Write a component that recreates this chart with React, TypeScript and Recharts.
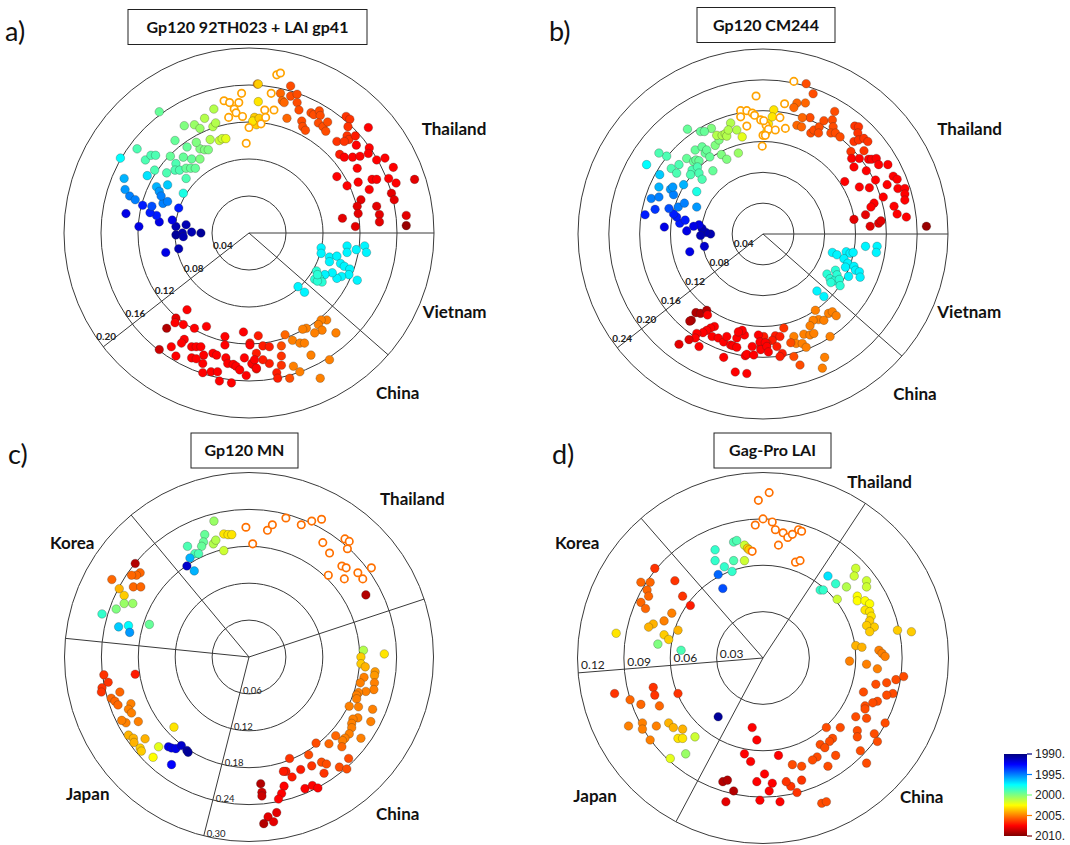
import {
  RadarChart, PolarGrid, ScatterChart, Scatter, XAxis, YAxis, BarChart, Bar,
} from 'recharts'

// each row: [x, y, year] — position in tree space (subst./site), sampling year
type Row = [number, number, number]

// ---------- a) Gp120 92TH023 + LAI gp41 ----------
const A_RINGS = [0.04, 0.08, 0.12, 0.16, 0.2]
const A_THAILAND: Row[] = [
  [-0.052, 0.000, 1990.5], [-0.062, 0.001, 1991], [-0.068, 0.009, 1991], [-0.072, 0.000, 1991], [-0.079, 0.007, 1991],
  [-0.079, -0.002, 1990.5], [-0.071, -0.004, 1991], [-0.076, -0.017, 1991],
  [-0.090, -0.021, 1992], [-0.083, 0.014, 1992], [-0.097, 0.012, 1992], [-0.100, 0.019, 1993], [-0.107, 0.022, 1993],
  [-0.115, 0.030, 1993], [-0.119, 0.007, 1992], [-0.133, 0.021, 1992], [-0.105, 0.029, 1994], [-0.076, 0.027, 1993],
  [-0.093, 0.032, 1995], [-0.088, 0.034, 1995], [-0.129, 0.040, 1995], [-0.123, 0.036, 1995], [-0.134, 0.047, 1995.5],
  [-0.100, 0.050, 1996], [-0.097, 0.045, 1995.5], [-0.095, 0.040, 1995], [-0.088, 0.052, 1996.5], [-0.110, 0.062, 1997],
  [-0.135, 0.059, 1996], [-0.139, 0.081, 1997.5], [-0.071, 0.043, 1998],
  [-0.097, 0.131, 1999.5], [-0.121, 0.091, 1999], [-0.112, 0.079, 1999], [-0.106, 0.084, 1999], [-0.101, 0.084, 1999],
  [-0.102, 0.068, 1999], [-0.085, 0.083, 1999.5], [-0.080, 0.100, 1999.5], [-0.079, 0.075, 1999], [-0.080, 0.068, 1999],
  [-0.075, 0.068, 1999], [-0.068, 0.059, 1999], [-0.089, 0.065, 1999], [-0.071, 0.082, 1999.5], [-0.067, 0.093, 1999.5],
  [-0.062, 0.080, 1999.5], [-0.068, 0.070, 1999.5], [-0.063, 0.070, 1999.5], [-0.058, 0.070, 1999.5], [-0.053, 0.080, 2000],
  [-0.053, 0.091, 2000], [-0.057, 0.098, 2000], [-0.048, 0.090, 2000], [-0.044, 0.090, 2000], [-0.070, 0.116, 2000],
  [-0.059, 0.117, 2000.5], [-0.053, 0.113, 2000.5], [-0.048, 0.124, 2001], [-0.039, 0.115, 2001], [-0.036, 0.119, 2001],
  [-0.038, 0.134, 2001], [-0.042, 0.101, 2001], [-0.032, 0.100, 2001.5], [-0.029, 0.102, 2001.5], [-0.025, 0.102, 2002],
  [0.006, 0.125, 2003.5], [0.008, 0.117, 2003.5], [0.009, 0.161, 2005],
  [0.010, 0.161, 2003.5], [0.010, 0.142, 2003], [0.004, 0.121, 2003], [0.011, 0.124, 2003.5],
  [0.045, 0.159, 2006], [0.034, 0.151, 2005.5], [0.045, 0.148, 2006], [0.052, 0.150, 2006], [0.036, 0.143, 2005.5],
  [0.038, 0.141, 2005.5], [0.052, 0.141, 2006], [0.054, 0.133, 2006], [0.041, 0.124, 2005.5], [0.057, 0.121, 2006],
  [0.058, 0.115, 2006], [0.061, 0.111, 2006], [0.067, 0.130, 2006], [0.070, 0.128, 2006], [0.076, 0.132, 2006],
  [0.077, 0.127, 2006], [0.075, 0.119, 2006], [0.080, 0.115, 2006], [0.083, 0.110, 2006], [0.085, 0.120, 2006],
  [0.105, 0.126, 2006.5], [0.109, 0.123, 2006.5], [0.107, 0.115, 2006.5], [0.106, 0.105, 2006.5], [0.108, 0.101, 2006.5],
  [0.115, 0.105, 2007], [0.095, 0.099, 2006.5], [0.103, 0.099, 2006.5],
  [0.129, 0.114, 2007.5], [0.116, 0.095, 2007.5], [0.130, 0.092, 2007.5], [0.098, 0.085, 2007], [0.103, 0.082, 2007.5],
  [0.112, 0.082, 2007.5], [0.120, 0.083, 2007.5], [0.129, 0.086, 2007.5], [0.138, 0.079, 2007.5], [0.147, 0.081, 2007.5],
  [0.117, 0.070, 2007.5], [0.156, 0.071, 2007.5], [0.095, 0.061, 2007.5], [0.106, 0.051, 2007.5], [0.118, 0.055, 2007.5],
  [0.133, 0.058, 2007.5], [0.138, 0.058, 2007.5], [0.151, 0.059, 2007.5], [0.159, 0.054, 2007.5], [0.179, 0.058, 2008],
  [0.130, 0.047, 2007.5], [0.154, 0.043, 2008], [0.157, 0.036, 2008], [0.121, 0.036, 2008], [0.117, 0.029, 2008],
  [0.118, 0.021, 2008], [0.138, 0.029, 2008], [0.141, 0.020, 2008], [0.141, 0.012, 2008], [0.101, 0.016, 2008],
  [0.115, 0.007, 2008], [0.170, 0.019, 2008], [0.170, 0.008, 2009.5],
]
const A_THAILAND_OPEN: Row[] = [
  [-0.027, 0.143, 2004.3], [-0.021, 0.141, 2004.3], [-0.011, 0.141, 2004.3], [-0.008, 0.151, 2004.3], [-0.016, 0.134, 2004.3],
  [-0.014, 0.130, 2004.3], [-0.022, 0.125, 2004.3], [-0.007, 0.126, 2004.3], [0.000, 0.114, 2004.3], [-0.003, 0.097, 2004.3],
  [0.030, 0.171, 2004.3], [0.034, 0.173, 2004.3], [0.024, 0.151, 2004.3], [0.017, 0.133, 2004.3], [0.027, 0.133, 2004.3],
  [0.013, 0.118, 2004.3], [0.018, 0.125, 2004.3],
]
const A_VIETNAM: Row[] = [
  [0.078, -0.016, 1997.3], [0.078, -0.022, 1997.3], [0.087, -0.026, 1997.3], [0.087, -0.031, 1997.3], [0.095, -0.025, 1997.3],
  [0.106, -0.014, 1997.3], [0.106, -0.021, 1997.3], [0.116, -0.018, 1997.3], [0.125, -0.014, 1997.3], [0.127, -0.021, 1997.3],
  [0.099, -0.033, 1997.3], [0.103, -0.036, 1997.3], [0.109, -0.039, 1997.3], [0.108, -0.045, 1997.3], [0.100, -0.047, 1997.3],
  [0.095, -0.049, 1997.3], [0.090, -0.043, 1997.3], [0.082, -0.045, 1997.3], [0.117, -0.051, 1997.3], [0.053, -0.058, 1997.3],
  [0.060, -0.064, 1997.3],
  [0.073, -0.041, 1998.3], [0.071, -0.050, 1998.3], [0.076, -0.049, 1998.3], [0.079, -0.053, 1998.3], [0.074, -0.052, 1998.3],
  [0.074, -0.045, 1998.3],
]
const A_CHINA: Row[] = [
  [0.084, -0.094, 2005], [0.078, -0.094, 2005], [0.075, -0.099, 2005], [0.079, -0.105, 2005], [0.071, -0.108, 2005],
  [0.062, -0.103, 2005], [0.058, -0.104, 2005], [0.047, -0.116, 2005], [0.055, -0.119, 2005], [0.060, -0.119, 2005],
  [0.067, -0.132, 2005], [0.094, -0.108, 2005], [0.087, -0.137, 2005], [0.077, -0.157, 2005], [0.055, -0.150, 2005],
  [0.048, -0.144, 2005], [0.039, -0.110, 2005.5], [0.035, -0.122, 2006],
  [0.010, -0.111, 2007], [0.001, -0.119, 2007], [0.015, -0.122, 2007], [0.022, -0.123, 2007], [0.008, -0.130, 2007],
  [0.022, -0.141, 2007], [0.035, -0.133, 2006.5], [0.015, -0.137, 2007], [0.004, -0.142, 2007], [0.008, -0.147, 2007],
  [0.035, -0.143, 2006.5], [0.030, -0.151, 2007], [0.044, -0.157, 2006], [0.031, -0.157, 2007],
  [-0.089, -0.103, 2009], [-0.079, -0.092, 2008], [-0.097, -0.126, 2008.5], [-0.067, -0.083, 2007.5], [-0.080, -0.097, 2007.5],
  [-0.071, -0.099, 2007.5], [-0.070, -0.115, 2007.5], [-0.073, -0.119, 2007.5], [-0.059, -0.103, 2007.5], [-0.046, -0.101, 2007.5],
  [-0.026, -0.112, 2007.5], [-0.006, -0.107, 2007.5], [0.001, -0.121, 2007.5], [-0.026, -0.121, 2007.5], [-0.084, -0.123, 2007.5],
  [-0.079, -0.133, 2007.5], [-0.062, -0.123, 2007.5], [-0.057, -0.123, 2007.5], [-0.052, -0.123, 2007.5], [-0.049, -0.132, 2007.5],
  [-0.039, -0.130, 2007.5], [-0.035, -0.132, 2007.5], [-0.050, -0.141, 2007.5], [-0.062, -0.135, 2007.5], [-0.057, -0.136, 2007.5],
  [-0.025, -0.135, 2007.5], [-0.023, -0.141, 2007.5], [-0.017, -0.142, 2007.5], [-0.014, -0.144, 2007.5], [-0.010, -0.148, 2007.5],
  [-0.005, -0.135, 2007.5], [0.003, -0.141, 2007.5], [0.006, -0.137, 2007.5], [0.008, -0.146, 2007.5], [-0.050, -0.151, 2007.5],
  [-0.041, -0.150, 2007.5], [-0.034, -0.150, 2007.5], [-0.032, -0.160, 2007.5], [-0.019, -0.162, 2007.5], [-0.003, -0.154, 2007.5],
]

// ---------- b) Gp120 CM244 ----------
const B_RINGS = [0.04, 0.08, 0.12, 0.16, 0.2, 0.24]
const B_THAILAND: Row[] = [
  [-0.068, 0.000, 1991], [-0.074, 0.002, 1991], [-0.079, 0.007, 1991], [-0.081, -0.002, 1991], [-0.083, 0.012, 1992],
  [-0.076, -0.016, 1991.5], [-0.095, -0.023, 1992], [-0.090, 0.010, 1992], [-0.099, 0.004, 1992], [-0.108, 0.014, 1993],
  [-0.112, 0.022, 1993], [-0.116, 0.026, 1993], [-0.101, 0.018, 1993], [-0.128, 0.009, 1992], [-0.122, 0.033, 1994],
  [-0.140, 0.032, 1993.5], [-0.153, 0.025, 1993],
  [-0.145, 0.046, 1995], [-0.135, 0.048, 1995], [-0.110, 0.035, 1995], [-0.102, 0.040, 1995], [-0.086, 0.035, 1995.5],
  [-0.120, 0.058, 1995.5], [-0.116, 0.051, 1995], [-0.117, 0.061, 1995.5], [-0.135, 0.061, 1996], [-0.103, 0.064, 1996],
  [-0.134, 0.077, 1996.5], [-0.151, 0.090, 1997.5], [-0.086, 0.055, 1998],
  [-0.098, 0.136, 1999.5], [-0.081, 0.133, 1999.5], [-0.067, 0.137, 2000], [-0.076, 0.133, 1999.5], [-0.125, 0.101, 1999],
  [-0.135, 0.105, 1999], [-0.119, 0.085, 1999], [-0.109, 0.090, 1999], [-0.112, 0.079, 1999], [-0.099, 0.098, 1999.5],
  [-0.090, 0.094, 1999.5], [-0.087, 0.096, 1999.5], [-0.083, 0.095, 1999.5], [-0.092, 0.083, 1999], [-0.085, 0.087, 1999],
  [-0.094, 0.077, 1999], [-0.083, 0.079, 1999], [-0.079, 0.071, 1999], [-0.088, 0.109, 1999.5], [-0.079, 0.113, 1999.5],
  [-0.075, 0.105, 1999.5], [-0.073, 0.109, 1999.5], [-0.065, 0.082, 1999.5], [-0.069, 0.100, 1999.5], [-0.062, 0.115, 2000],
  [-0.057, 0.122, 2000], [-0.054, 0.103, 2000], [-0.047, 0.097, 2000], [-0.032, 0.105, 2000.5], [-0.060, 0.128, 2001],
  [-0.053, 0.128, 2001], [-0.049, 0.130, 2001], [-0.047, 0.127, 2001], [-0.042, 0.144, 2001], [-0.034, 0.135, 2001],
  [-0.045, 0.135, 2001], [-0.027, 0.126, 2002],
  [0.014, 0.161, 2003], [0.007, 0.143, 2003], [0.005, 0.133, 2003], [0.012, 0.152, 2003],
  [0.056, 0.195, 2006], [0.065, 0.182, 2006], [0.055, 0.170, 2005.5], [0.044, 0.170, 2005.5], [0.040, 0.164, 2005.5],
  [0.061, 0.151, 2006], [0.051, 0.151, 2005.5], [0.044, 0.141, 2005.5], [0.050, 0.139, 2005.5], [0.062, 0.131, 2006],
  [0.066, 0.135, 2006], [0.073, 0.139, 2006], [0.072, 0.131, 2006], [0.079, 0.147, 2006], [0.090, 0.148, 2006],
  [0.093, 0.159, 2006], [0.091, 0.139, 2006], [0.088, 0.131, 2006], [0.094, 0.131, 2006], [0.100, 0.126, 2006],
  [0.119, 0.140, 2006.5], [0.124, 0.139, 2006.5], [0.123, 0.131, 2006.5], [0.118, 0.120, 2006.5], [0.124, 0.122, 2006.5],
  [0.131, 0.124, 2006.5], [0.136, 0.120, 2006.5], [0.114, 0.107, 2006.5], [0.131, 0.108, 2006.5],
  [0.115, 0.098, 2007.5], [0.125, 0.098, 2007.5], [0.118, 0.087, 2007.5], [0.137, 0.097, 2007.5], [0.141, 0.097, 2007.5],
  [0.147, 0.098, 2007.5], [0.134, 0.082, 2007.5], [0.146, 0.070, 2007.5], [0.150, 0.090, 2007.5], [0.162, 0.090, 2007.5],
  [0.106, 0.068, 2007.5], [0.125, 0.061, 2007.5], [0.138, 0.060, 2007.5], [0.161, 0.064, 2007.5], [0.169, 0.075, 2007.5],
  [0.174, 0.071, 2007.5], [0.175, 0.059, 2007.5], [0.184, 0.059, 2007.5], [0.184, 0.052, 2007.5], [0.184, 0.044, 2007.5],
  [0.156, 0.048, 2007.5], [0.144, 0.040, 2007.5], [0.140, 0.035, 2007.5], [0.170, 0.036, 2007.5], [0.174, 0.026, 2007.5],
  [0.186, 0.022, 2007.5], [0.133, 0.025, 2008], [0.118, 0.019, 2008], [0.139, 0.010, 2008], [0.150, 0.014, 2008],
  [0.153, 0.017, 2008], [0.212, 0.010, 2009.5],
]
const B_THAILAND_OPEN: Row[] = [
  [-0.009, 0.179, 2004.3], [-0.029, 0.160, 2004.3], [-0.021, 0.160, 2004.3], [-0.014, 0.157, 2004.3], [-0.011, 0.154, 2004.3],
  [-0.029, 0.152, 2004.3], [-0.021, 0.140, 2004.3], [-0.003, 0.148, 2004.3], [0.004, 0.141, 2004.3], [0.000, 0.128, 2004.3],
  [-0.001, 0.114, 2004.3], [0.007, 0.136, 2004.3], [0.040, 0.198, 2004.3], [0.028, 0.169, 2004.3], [0.022, 0.151, 2004.3],
  [0.016, 0.135, 2004.3], [0.029, 0.137, 2004.3], [0.001, 0.147, 2004.3], [0.003, 0.128, 2004.3],
]
const B_VIETNAM: Row[] = [
  [0.090, -0.024, 1997.3], [0.096, -0.027, 1997.3], [0.108, -0.023, 1997.3], [0.113, -0.025, 1997.3], [0.117, -0.024, 1997.3],
  [0.133, -0.016, 1997.3], [0.148, -0.016, 1997.3], [0.147, -0.024, 1997.3], [0.105, -0.032, 1997.3], [0.110, -0.038, 1997.3],
  [0.107, -0.043, 1997.3], [0.118, -0.042, 1997.3], [0.120, -0.047, 1997.3], [0.125, -0.049, 1997.3], [0.126, -0.056, 1997.3],
  [0.111, -0.055, 1997.3], [0.070, -0.074, 1997.3], [0.079, -0.081, 1997.3],
  [0.083, -0.052, 1998.3], [0.087, -0.058, 1998.3], [0.094, -0.047, 1998.3], [0.096, -0.053, 1998.3], [0.092, -0.061, 1998.3],
  [0.099, -0.059, 1998.3], [0.100, -0.067, 1998.3], [0.088, -0.063, 1998.3],
]
const B_CHINA: Row[] = [
  [0.068, -0.099, 2005], [0.085, -0.103, 2005], [0.090, -0.101, 2005], [0.095, -0.106, 2005], [0.072, -0.111, 2005],
  [0.065, -0.112, 2005], [0.079, -0.112, 2005], [0.061, -0.119, 2005], [0.053, -0.130, 2005], [0.061, -0.131, 2005],
  [0.066, -0.129, 2005], [0.087, -0.133, 2005], [0.040, -0.133, 2005], [0.043, -0.142, 2005], [0.051, -0.142, 2005],
  [0.056, -0.147, 2005], [0.077, -0.174, 2005], [0.080, -0.160, 2005],
  [0.036, -0.141, 2006], [0.040, -0.159, 2006], [0.048, -0.170, 2006],
  [0.027, -0.122, 2006.5], [0.016, -0.132, 2007], [0.012, -0.138, 2007], [0.001, -0.133, 2007], [0.005, -0.142, 2007],
  [0.022, -0.133, 2007], [0.018, -0.146, 2007], [0.025, -0.155, 2007], [0.022, -0.159, 2007], [-0.003, -0.146, 2007],
  [-0.087, -0.102, 2009], [-0.081, -0.103, 2009], [-0.093, -0.112, 2009], [-0.095, -0.113, 2009], [-0.073, -0.099, 2009],
  [-0.072, -0.105, 2007.5], [-0.063, -0.120, 2007.5], [-0.068, -0.122, 2007.5], [-0.073, -0.125, 2007.5], [-0.078, -0.128, 2007.5],
  [-0.086, -0.129, 2007.5], [-0.088, -0.135, 2007.5], [-0.096, -0.137, 2008], [-0.109, -0.143, 2008], [-0.083, -0.146, 2007.5],
  [-0.066, -0.133, 2007.5], [-0.058, -0.135, 2007.5], [-0.051, -0.140, 2007.5], [-0.047, -0.133, 2007.5], [-0.042, -0.144, 2007.5],
  [-0.034, -0.135, 2007.5], [-0.039, -0.145, 2007.5], [-0.034, -0.147, 2007.5], [-0.051, -0.160, 2007.5], [-0.023, -0.158, 2007.5],
  [-0.021, -0.156, 2007.5], [-0.012, -0.157, 2007.5], [-0.024, -0.131, 2007.5], [-0.006, -0.131, 2007.5], [-0.004, -0.140, 2007.5],
  [0.003, -0.141, 2007.5], [-0.014, -0.146, 2007.5], [-0.003, -0.150, 2007.5], [-0.036, -0.179, 2007.5], [-0.021, -0.181, 2007.5],
  [-0.027, -0.125, 2007.5], [-0.032, -0.127, 2007.5], [0.005, -0.146, 2007.5], [0.007, -0.153, 2007.5],
]

// ---------- c) Gp120 MN ----------
const C_RINGS = [0.06, 0.12, 0.18, 0.24, 0.3]
const C_KOREA: Row[] = [
  [-0.185, 0.152, 2009], [-0.177, 0.137, 2005.5], [-0.183, 0.133, 2005.5], [-0.191, 0.133, 2005.5], [-0.188, 0.114, 2005.5],
  [-0.176, 0.114, 2005.5], [-0.223, 0.126, 2005.5], [-0.211, 0.111, 2004], [-0.203, 0.100, 2003.5], [-0.203, 0.087, 2000.5],
  [-0.189, 0.087, 2000.5], [-0.216, 0.078, 2000], [-0.239, 0.070, 1998.5], [-0.162, 0.053, 1999.5], [-0.196, 0.051, 1997.5],
  [-0.212, 0.049, 1996.5], [-0.194, 0.040, 1995.5],
]
const C_THAILAND: Row[] = [
  [-0.057, 0.221, 2000.5], [-0.072, 0.199, 1999.5], [-0.074, 0.187, 1999.5], [-0.077, 0.180, 1999.5], [-0.100, 0.180, 1999],
  [-0.088, 0.168, 1999], [-0.082, 0.168, 1999], [-0.058, 0.184, 2001], [-0.054, 0.190, 2001], [-0.041, 0.173, 2001.5],
  [-0.041, 0.200, 2003], [-0.034, 0.199, 2003], [-0.028, 0.199, 2003], [-0.096, 0.161, 1996], [-0.101, 0.148, 1991.5],
  [-0.089, 0.140, 1996], [0.190, 0.101, 2009],
]
const C_THAILAND_OPEN: Row[] = [
  [-0.005, 0.211, 2005.3], [0.006, 0.184, 2005.3], [0.030, 0.206, 2005.3], [0.038, 0.215, 2005.3], [0.060, 0.226, 2005.3],
  [0.085, 0.215, 2005.3], [0.102, 0.221, 2005.3], [0.118, 0.224, 2005.3], [0.120, 0.186, 2005.3], [0.131, 0.169, 2005.3],
  [0.156, 0.192, 2005.3], [0.163, 0.188, 2005.3], [0.160, 0.176, 2005.3], [0.151, 0.148, 2005.3], [0.158, 0.145, 2005.3],
  [0.129, 0.133, 2005.3], [0.155, 0.127, 2005.3], [0.177, 0.137, 2005.3], [0.185, 0.127, 2005.3], [0.199, 0.145, 2005.3],
]
const C_CHINA: Row[] = [
  [0.186, 0.011, 2001], [0.220, 0.005, 2003], [0.182, 0.000, 2003.5], [0.182, -0.011, 2003.5], [0.189, -0.016, 2004],
  [0.205, -0.024, 2004.5], [0.204, -0.030, 2004.5], [0.187, -0.033, 2005], [0.181, -0.042, 2005], [0.204, -0.042, 2005],
  [0.203, -0.053, 2005], [0.190, -0.056, 2005], [0.178, -0.058, 2005], [0.175, -0.062, 2005], [0.175, -0.068, 2005],
  [0.163, -0.080, 2005], [0.178, -0.081, 2005], [0.201, -0.085, 2005], [0.177, -0.099, 2005], [0.169, -0.101, 2005],
  [0.167, -0.108, 2005], [0.167, -0.115, 2005], [0.198, -0.105, 2005], [0.163, -0.125, 2005], [0.156, -0.132, 2005],
  [0.152, -0.136, 2005], [0.182, -0.132, 2005], [0.141, -0.128, 2005.5], [0.130, -0.141, 2005.5], [0.151, -0.146, 2005.5],
  [0.109, -0.140, 2006], [0.097, -0.159, 2006], [0.066, -0.165, 2006.5], [0.118, -0.171, 2006], [0.126, -0.174, 2006],
  [0.147, -0.179, 2006], [0.162, -0.165, 2006], [0.159, -0.182, 2006], [0.122, -0.189, 2006.5], [0.084, -0.183, 2007],
  [0.102, -0.177, 2006.5], [0.060, -0.186, 2007], [0.056, -0.186, 2007], [0.070, -0.195, 2007], [0.057, -0.210, 2007.5],
  [0.053, -0.222, 2007.5], [0.048, -0.231, 2007.5], [0.091, -0.214, 2007.5], [0.103, -0.209, 2007.5], [0.112, -0.213, 2007.5],
  [0.031, -0.260, 2008], [0.045, -0.253, 2008], [0.040, -0.268, 2008], [0.024, -0.271, 2009], [0.019, -0.206, 2009],
  [0.021, -0.220, 2008.5], [0.021, -0.226, 2008.5],
]
const C_JAPAN: Row[] = [
  [-0.185, -0.028, 2007], [-0.236, -0.029, 2006.5], [-0.229, -0.041, 2006.5], [-0.239, -0.050, 2006.5], [-0.240, -0.057, 2006.5],
  [-0.210, -0.057, 2005.5], [-0.224, -0.067, 2005.5], [-0.218, -0.072, 2005.5], [-0.213, -0.078, 2005.5], [-0.192, -0.076, 2005],
  [-0.196, -0.085, 2005], [-0.191, -0.091, 2005], [-0.180, -0.105, 2005], [-0.200, -0.107, 2005], [-0.207, -0.103, 2005],
  [-0.196, -0.127, 2004], [-0.188, -0.132, 2004], [-0.187, -0.139, 2004], [-0.169, -0.133, 2004], [-0.177, -0.148, 2003.5],
  [-0.175, -0.153, 2003.5], [-0.147, -0.146, 2002], [-0.156, -0.163, 2002.5], [-0.122, -0.114, 2003], [-0.131, -0.146, 1992],
  [-0.126, -0.148, 1992], [-0.119, -0.149, 1992], [-0.110, -0.144, 1991.5], [-0.101, -0.152, 1991], [-0.099, -0.155, 1990.5],
  [-0.126, -0.175, 1992.5],
]

// ---------- d) Gag-Pro LAI ----------
const D_RINGS = [0.03, 0.06, 0.09, 0.12]
const D_KOREA: Row[] = [
  [-0.070, 0.058, 2006.5], [-0.073, 0.049, 2005.5], [-0.079, 0.049, 2005.5], [-0.075, 0.044, 2005.5], [-0.074, 0.040, 2005.5],
  [-0.079, 0.036, 2005.5], [-0.076, 0.032, 2005.5], [-0.057, 0.050, 2006.5], [-0.052, 0.040, 2006.5], [-0.047, 0.034, 2007],
  [-0.059, 0.029, 2005], [-0.064, 0.024, 2005], [-0.071, 0.022, 2004], [-0.074, 0.020, 2004], [-0.055, 0.018, 2004],
  [-0.064, 0.015, 2003.5], [-0.061, 0.012, 2003.5], [-0.095, 0.016, 2003], [-0.068, 0.009, 2000], [-0.053, 0.005, 1999],
]
const D_THAILAND: Row[] = [
  [-0.031, 0.070, 1998.5], [-0.019, 0.075, 1999], [-0.017, 0.076, 1999], [-0.031, 0.063, 1998.5], [-0.019, 0.063, 1999],
  [-0.025, 0.059, 1998.5], [-0.020, 0.056, 1998.5], [-0.012, 0.073, 2001.5], [-0.012, 0.063, 2001.5], [-0.010, 0.071, 2003.5],
  [-0.009, 0.070, 2003.5], [-0.029, 0.054, 1994.5], [-0.026, 0.045, 1994],
]
const D_THAILAND_OPEN: Row[] = [
  [-0.007, 0.069, 2005.3], [0.000, 0.090, 2005.3], [-0.005, 0.086, 2005.3], [-0.003, 0.102, 2005.3], [0.004, 0.107, 2005.3],
  [0.006, 0.088, 2005.3], [0.008, 0.083, 2005.3], [0.013, 0.081, 2005.3], [0.016, 0.078, 2005.3], [0.019, 0.080, 2005.3],
  [0.023, 0.083, 2005.3], [0.025, 0.082, 2005.3], [0.010, 0.073, 2005.3], [0.021, 0.062, 2005.3], [0.024, 0.063, 2005.3],
]
const D_CHINA: Row[] = [
  [0.042, 0.053, 1997], [0.047, 0.048, 1998.5], [0.037, 0.044, 1998.5], [0.039, 0.044, 1998.5], [0.060, 0.058, 2001.5],
  [0.059, 0.053, 2001.5], [0.054, 0.046, 2001], [0.067, 0.050, 2001.5], [0.067, 0.046, 2001.5], [0.048, 0.038, 2001.5],
  [0.061, 0.040, 2002.5], [0.061, 0.037, 2002.5], [0.066, 0.037, 2002.5], [0.069, 0.035, 2002.5], [0.066, 0.031, 2003],
  [0.069, 0.030, 2003], [0.070, 0.027, 2003], [0.069, 0.024, 2003.5], [0.072, 0.020, 2003.5], [0.067, 0.021, 2003.5],
  [0.069, 0.017, 2003.5], [0.087, 0.018, 2003.5], [0.096, 0.017, 2003.5], [0.060, 0.008, 2004], [0.064, 0.007, 2004],
  [0.056, -0.002, 2005], [0.075, 0.005, 2005], [0.077, 0.003, 2005], [0.079, 0.001, 2005], [0.067, -0.004, 2005],
  [0.074, -0.007, 2005],
  [0.086, -0.014, 2006], [0.091, -0.012, 2006], [0.080, -0.016, 2006], [0.073, -0.017, 2006], [0.084, -0.023, 2006],
  [0.080, -0.024, 2006], [0.065, -0.022, 2006], [0.074, -0.028, 2006], [0.071, -0.029, 2006], [0.066, -0.031, 2006],
  [0.066, -0.033, 2006], [0.067, -0.039, 2006], [0.060, -0.038, 2006], [0.079, -0.042, 2006], [0.061, -0.047, 2006],
  [0.061, -0.051, 2006], [0.072, -0.049, 2006], [0.074, -0.054, 2006], [0.050, -0.045, 2006], [0.041, -0.045, 2006],
  [0.045, -0.052, 2006], [0.043, -0.054, 2006], [0.037, -0.056, 2006], [0.040, -0.058, 2006], [0.063, -0.060, 2006],
  [0.067, -0.068, 2006], [0.047, -0.063, 2006], [0.042, -0.070, 2006], [0.035, -0.064, 2006], [0.032, -0.066, 2006],
  [0.019, -0.069, 2006], [0.025, -0.070, 2006], [0.025, -0.079, 2006.5], [0.018, -0.083, 2006.5], [0.022, -0.087, 2006.5],
  [0.015, -0.080, 2006.5], [0.038, -0.094, 2006], [0.041, -0.093, 2006],
  [0.010, -0.063, 2007.5], [0.006, -0.081, 2007.5], [0.011, -0.093, 2007.5], [-0.007, -0.045, 2007.5], [-0.004, -0.053, 2007.5],
  [-0.012, -0.062, 2007.5], [-0.008, -0.067, 2007.5], [0.001, -0.075, 2007.5], [-0.004, -0.080, 2007.5], [-0.002, -0.092, 2007.5],
  [0.004, -0.086, 2007.5], [-0.026, -0.080, 2009], [-0.023, -0.079, 2009], [-0.019, -0.086, 2009], [-0.024, -0.093, 2008],
]
const D_JAPAN: Row[] = [
  [-0.029, -0.038, 1990.5], [-0.096, -0.023, 2006.5], [-0.071, -0.019, 2006.5], [-0.070, -0.024, 2006.5], [-0.055, -0.023, 2006.5],
  [-0.086, -0.027, 2005.5], [-0.079, -0.030, 2005.5], [-0.067, -0.031, 2005.5], [-0.087, -0.044, 2005], [-0.078, -0.042, 2005],
  [-0.078, -0.046, 2005], [-0.069, -0.044, 2005], [-0.073, -0.053, 2005], [-0.061, -0.042, 2004], [-0.058, -0.045, 2004],
  [-0.052, -0.046, 2004], [-0.055, -0.052, 2003], [-0.052, -0.052, 2003], [-0.044, -0.051, 2001.5], [-0.050, -0.062, 2000.5],
  [-0.060, -0.065, 2002],
]

const YEAR_TICKS = [1990, 1995, 2000, 2005, 2010]
const COLORBAR = [{ name: 'year', span: [1990, 2010] }]

// jet colormap, 1990 -> 2010
const clamp = (v: number) => Math.max(0, Math.min(1, v))
function jet(year: number) {
  const t = clamp((year - 1990) / 20)
  const r = clamp(1.5 - Math.abs(4 * t - 3))
  const g = clamp(1.5 - Math.abs(4 * t - 2))
  const b = clamp(1.5 - Math.abs(4 * t - 1))
  return `rgb(${Math.round(r * 255)},${Math.round(g * 255)},${Math.round(b * 255)})`
}

type Pt = { x: number; y: number; year: number; hollow: boolean }
const toPts = (rows: Row[], hollow = false): Pt[] => rows.map(([x, y, year]) => ({ x, y, year, hollow }))

type Panel = {
  id: string
  cx: number
  cy: number
  radius: number
  rings: number[]
  spokes: number[]
  labelAngle: number
  labelDx: number
  labelDy: number
  labelAnchor: 'start' | 'middle'
  labelSize: number
  labelWeight: number
  points: Pt[]
}

const PANELS: Panel[] = [
  {
    id: 'a', cx: 249, cy: 233.3, radius: 185, rings: A_RINGS, spokes: [0, 218, 318.8],
    labelAngle: 218, labelDx: 3, labelDy: -11, labelAnchor: 'middle', labelSize: 10, labelWeight: 700,
    points: [...toPts(A_THAILAND), ...toPts(A_THAILAND_OPEN, true), ...toPts(A_VIETNAM), ...toPts(A_CHINA)],
  },
  {
    id: 'b', cx: 762.7, cy: 234, radius: 185, rings: B_RINGS, spokes: [0, 218, 318.7],
    labelAngle: 218, labelDx: 5, labelDy: -10, labelAnchor: 'middle', labelSize: 10, labelWeight: 700,
    points: [...toPts(B_THAILAND), ...toPts(B_THAILAND_OPEN, true), ...toPts(B_VIETNAM), ...toPts(B_CHINA)],
  },
  {
    id: 'c', cx: 249, cy: 656.7, radius: 184.5, rings: C_RINGS, spokes: [18.3, 129.7, 174.2, 255.8],
    labelAngle: 255.8, labelDx: 3, labelDy: -2, labelAnchor: 'start', labelSize: 9.5, labelWeight: 400,
    points: [...toPts(C_KOREA), ...toPts(C_THAILAND), ...toPts(C_THAILAND_OPEN, true), ...toPts(C_CHINA), ...toPts(C_JAPAN)],
  },
  {
    id: 'd', cx: 763.2, cy: 658.3, radius: 185.5, rings: D_RINGS, spokes: [56.5, 131.1, 184.6, 242],
    labelAngle: 184.6, labelDx: 3, labelDy: -8, labelAnchor: 'start', labelSize: 12, labelWeight: 400,
    points: [...toPts(D_KOREA), ...toPts(D_THAILAND), ...toPts(D_THAILAND_OPEN, true), ...toPts(D_CHINA), ...toPts(D_JAPAN)],
  },
]

const FONT = 'Lato, "Open Sans", sans-serif'
const SIZE = 400

function renderDot(props: any) {
  const { cx, cy, payload } = props
  if (cx == null || cy == null || !payload) return <g />
  const c = jet(payload.year)
  if (payload.hollow) {
    return <circle cx={cx} cy={cy} r={3.7} fill="#fff" stroke={c} strokeWidth={1.7} />
  }
  return <circle cx={cx} cy={cy} r={4.3} fill={c} stroke="rgba(40,40,40,0.45)" strokeWidth={0.6} />
}

function PolarPanel({ p }: { p: Panel }) {
  const half = SIZE / 2
  const pad = half - p.radius
  const max = p.rings[p.rings.length - 1]
  const rad = (p.labelAngle * Math.PI) / 180
  // ring values placed along the labelled spoke, positioned by the chart's scales
  const ringLabels = p.rings.map(v => ({ x: v * Math.cos(rad), y: v * Math.sin(rad), label: v.toFixed(2) }))

  const renderRingLabel = (props: any) => {
    const { cx, cy, payload } = props
    if (cx == null || cy == null || !payload) return <g />
    return (
      <text x={cx + p.labelDx} y={cy + p.labelDy} textAnchor={p.labelAnchor} dominantBaseline="central"
        fontFamily={FONT} fontSize={p.labelSize} fontWeight={p.labelWeight} fill="#222">
        {payload.label}
      </text>
    )
  }

  return (
    <div style={{ position: 'absolute', left: p.cx - half, top: p.cy - half, width: SIZE, height: SIZE }}>
      <div style={{ position: 'absolute', left: 0, top: 0 }}>
        <RadarChart width={SIZE} height={SIZE} cx={half} cy={half} outerRadius={p.radius} innerRadius={0}
          startAngle={0} endAngle={360} data={p.points} margin={{ top: 0, right: 0, bottom: 0, left: 0 }}>
          <PolarGrid gridType="circle" polarRadius={p.rings.map(v => (v / max) * p.radius)}
            polarAngles={p.spokes} stroke="#3a3a3a" strokeWidth={1} />
        </RadarChart>
      </div>
      <div style={{ position: 'absolute', left: 0, top: 0 }}>
        <ScatterChart width={SIZE} height={SIZE} margin={{ top: pad, right: pad, bottom: pad, left: pad }}>
          <XAxis type="number" dataKey="x" domain={[-max, max]} hide allowDataOverflow />
          <YAxis type="number" dataKey="y" domain={[-max, max]} hide allowDataOverflow />
          <Scatter data={ringLabels} shape={renderRingLabel} isAnimationActive={false} />
          <Scatter data={p.points} shape={renderDot} isAnimationActive={false} />
        </ScatterChart>
      </div>
    </div>
  )
}

function ColorBar() {
  const tick = (props: any) => {
    const { x, y, payload } = props
    return (
      <g>
        <line x1={x - 8} x2={x - 3} y1={y} y2={y} stroke={jet(payload.value)} strokeWidth={1.2} />
        <text x={x} y={y} dy="0.36em" fontFamily='"Liberation Sans", Arial, sans-serif' fontSize={12} fill="#222">
          {`${payload.value}.`}
        </text>
      </g>
    )
  }
  return (
    <div style={{ position: 'absolute', left: 996, top: 746 }}>
      <BarChart width={74} height={99} data={COLORBAR} margin={{ top: 8, right: 0, bottom: 9, left: 8 }}
        barCategoryGap={0}>
        <defs>
          <linearGradient id="jetbar" x1="0" y1="0" x2="0" y2="1">
            <stop offset="0%" stopColor="#00007f" />
            <stop offset="12.5%" stopColor="#0000ff" />
            <stop offset="37.5%" stopColor="#00ffff" />
            <stop offset="62.5%" stopColor="#ffff00" />
            <stop offset="87.5%" stopColor="#ff0000" />
            <stop offset="100%" stopColor="#7f0000" />
          </linearGradient>
        </defs>
        <XAxis dataKey="name" hide />
        <YAxis orientation="right" type="number" domain={[1990, 2010]} reversed ticks={YEAR_TICKS} interval={0}
          width={43} tickSize={5} tickMargin={3} axisLine={false} tickLine={false} tick={tick} />
        <Bar dataKey="span" fill="url(#jetbar)" isAnimationActive={false} />
      </BarChart>
    </div>
  )
}

const TITLES = [
  { text: 'Gp120 92TH023 + LAI gp41', x: 128, y: 9.5, w: 239, h: 35 },
  { text: 'Gp120 CM244', x: 697, y: 7.5, w: 138, h: 35 },
  { text: 'Gp120 MN', x: 191, y: 433, w: 107, h: 35 },
  { text: 'Gag-Pro LAI', x: 714, y: 433, w: 117, h: 35 },
]
const LETTERS = [
  { text: 'a)', x: 5, y: 41 }, { text: 'b)', x: 549, y: 41 },
  { text: 'c)', x: 8, y: 464 }, { text: 'd)', x: 552, y: 464 },
]
const COUNTRIES: { text: string; x: number; y: number; anchor?: 'end' }[] = [
  { text: 'Thailand', x: 421.7, y: 135.3 }, { text: 'Vietnam', x: 422.7, y: 317.7 }, { text: 'China', x: 376, y: 399.3 },
  { text: 'Thailand', x: 937.3, y: 135.3 }, { text: 'Vietnam', x: 937.3, y: 317.7 }, { text: 'China', x: 893.3, y: 400 },
  { text: 'Thailand', x: 380, y: 505 }, { text: 'Korea', x: 94.5, y: 549.3, anchor: 'end' },
  { text: 'Japan', x: 109.5, y: 800, anchor: 'end' }, { text: 'China', x: 376, y: 820.3 },
  { text: 'Thailand', x: 847.3, y: 487.7 }, { text: 'Korea', x: 599.5, y: 549.3, anchor: 'end' },
  { text: 'Japan', x: 573.3, y: 802 }, { text: 'China', x: 900, y: 802.7 },
]

export default function App() {
  return (
    <div style={{ position: 'absolute', left: 0, top: 0, width: 1070, height: 845, overflow: 'hidden', background: '#fff' }}>
      {PANELS.map(p => <PolarPanel key={p.id} p={p} />)}
      <ColorBar />
      <svg width={1070} height={845} style={{ position: 'absolute', left: 0, top: 0, pointerEvents: 'none' }}>
        {TITLES.map(t => (
          <g key={t.text}>
            <rect x={t.x} y={t.y} width={t.w} height={t.h} fill="#fff" stroke="#222" strokeWidth={1} />
            <text x={t.x + t.w / 2} y={t.y + t.h / 2 + 5.5} textAnchor="middle" fontFamily={FONT}
              fontWeight={700} fontSize={16} fill="#111">{t.text}</text>
          </g>
        ))}
        {LETTERS.map(l => (
          <text key={l.text} x={l.x} y={l.y} fontFamily={FONT} fontSize={27} fill="#111">{l.text}</text>
        ))}
        {COUNTRIES.map((c, i) => (
          <text key={i} x={c.x} y={c.y} textAnchor={c.anchor ?? 'start'} fontFamily={FONT} fontWeight={700}
            fontSize={17} fill="#111">{c.text}</text>
        ))}
      </svg>
    </div>
  )
}
